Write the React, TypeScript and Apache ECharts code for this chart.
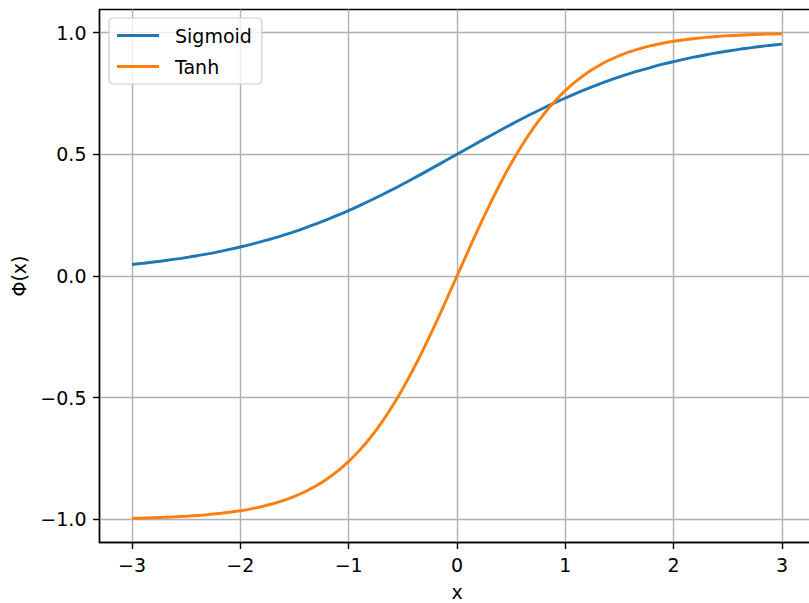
import React, { useEffect, useRef } from "react";
import * as echarts from "echarts";

const xValues = [
  -3, -2.9, -2.8, -2.7, -2.6, -2.5, -2.4, -2.3, -2.2, -2.1, -2, -1.9, -1.8,
  -1.7, -1.6, -1.5, -1.4, -1.3, -1.2, -1.1, -1, -0.9, -0.8, -0.7, -0.6, -0.5,
  -0.4, -0.3, -0.2, -0.1, 0, 0.1, 0.2, 0.3, 0.4, 0.5, 0.6, 0.7, 0.8, 0.9, 1,
  1.1, 1.2, 1.3, 1.4, 1.5, 1.6, 1.7, 1.8, 1.9, 2, 2.1, 2.2, 2.3, 2.4, 2.5, 2.6,
  2.7, 2.8, 2.9, 3,
];
const sigmoidValues = [
  0.0474, 0.0522, 0.0573, 0.063, 0.0691, 0.0759, 0.0832, 0.0911, 0.0998,
  0.1091, 0.1192, 0.1301, 0.1419, 0.1545, 0.168, 0.1824, 0.1978, 0.2142,
  0.2315, 0.2497, 0.2689, 0.2891, 0.31, 0.3318, 0.3543, 0.3775, 0.4013,
  0.4256, 0.4502, 0.475, 0.5, 0.525, 0.5498, 0.5744, 0.5987, 0.6225, 0.6457,
  0.6682, 0.69, 0.7109, 0.7311, 0.7503, 0.7685, 0.7858, 0.8022, 0.8176,
  0.832, 0.8455, 0.8581, 0.8699, 0.8808, 0.8909, 0.9002, 0.9089, 0.9168,
  0.9241, 0.9309, 0.937, 0.9427, 0.9478, 0.9526,
];
const tanhValues = [
  -0.9951, -0.994, -0.9926, -0.991, -0.989, -0.9866, -0.9837, -0.9801,
  -0.9757, -0.9705, -0.964, -0.9562, -0.9468, -0.9354, -0.9217, -0.9051,
  -0.8854, -0.8617, -0.8337, -0.8005, -0.7616, -0.7163, -0.664, -0.6044,
  -0.537, -0.4621, -0.3799, -0.2913, -0.1974, -0.0997, 0, 0.0997, 0.1974,
  0.2913, 0.3799, 0.4621, 0.537, 0.6044, 0.664, 0.7163, 0.7616, 0.8005,
  0.8337, 0.8617, 0.8854, 0.9051, 0.9217, 0.9354, 0.9468, 0.9562, 0.964,
  0.9705, 0.9757, 0.9801, 0.9837, 0.9866, 0.989, 0.991, 0.9926, 0.994, 0.9951,
];
const xTicks = [-3, -2, -1, 0, 1, 2, 3];
const yTicks = [-1, -0.5, 0, 0.5, 1];
const seriesNames = ["Sigmoid", "Tanh"];

const FONT = "DejaVu Sans";
const minus = (s: string) => s.replace("-", "\u2212");

export default function App() {
  const ref = useRef<HTMLDivElement>(null);
  useEffect(() => {
    if (!ref.current) return;
    const chart = echarts.init(ref.current, undefined, { renderer: "svg" });
    const axisCommon = {
      type: "value" as const,
      nameLocation: "middle" as const,
      nameTextStyle: { fontSize: 19, color: "#000", fontFamily: FONT },
      axisLine: { show: true, onZero: false, lineStyle: { color: "#000", width: 1.4 } },
      axisTick: { show: true, inside: false, length: 6.5, lineStyle: { color: "#000", width: 1.4 } },
      splitLine: { show: true, lineStyle: { color: "#b0b0b0", width: 1.4 } },
    };
    chart.setOption({
      animation: false,
      textStyle: { fontFamily: FONT },
      grid: {
        left: 99.5,
        top: 9.5,
        width: 715,
        height: 533,
        outerBoundsMode: "none",
        containLabel: false,
        show: true,
        borderColor: "#000",
        borderWidth: 1.4,
        backgroundColor: "#fff",
      },
      legend: {
        data: seriesNames,
        orient: "vertical",
        left: 109,
        top: 18,
        padding: [8, 10, 8, 8],
        icon: "rect",
        itemWidth: 42,
        itemHeight: 3,
        itemGap: 12,
        backgroundColor: "rgba(255,255,255,0.8)",
        borderColor: "#cccccc",
        borderWidth: 1.2,
        borderRadius: 4,
        textStyle: { fontSize: 19, color: "#000", fontFamily: FONT, padding: [0, 0, 0, 11] },
      },
      xAxis: {
        ...axisCommon,
        min: -3.3,
        max: 3.3,
        name: "x",
        nameGap: 40,
        axisTick: { ...axisCommon.axisTick, customValues: xTicks },
        axisLabel: {
          customValues: xTicks,
          fontSize: 19,
          color: "#000",
          fontFamily: FONT,
          margin: 13,
          formatter: (v: number) => minus(String(v)),
        },
      },
      yAxis: {
        ...axisCommon,
        min: -1.0946,
        max: 1.0946,
        name: "\u03a6(x)",
        nameGap: 71,
        axisTick: { ...axisCommon.axisTick, customValues: yTicks },
        axisLabel: {
          customValues: yTicks,
          fontSize: 19,
          color: "#000",
          fontFamily: FONT,
          margin: 13,
          formatter: (v: number) => minus(v.toFixed(1)),
        },
      },
      series: [
        {
          name: seriesNames[0],
          type: "line",
          smooth: true,
          symbol: "none",
          data: xValues.map((x, i) => [x, sigmoidValues[i]]),
          lineStyle: { color: "#1f77b4", width: 2.9 },
          itemStyle: { color: "#1f77b4" },
        },
        {
          name: seriesNames[1],
          type: "line",
          smooth: true,
          symbol: "none",
          data: xValues.map((x, i) => [x, tanhValues[i]]),
          lineStyle: { color: "#ff7f0e", width: 2.9 },
          itemStyle: { color: "#ff7f0e" },
        },
      ],
    });
    return () => chart.dispose();
  }, []);
  return (
    <div
      ref={ref}
      style={{ position: "fixed", left: 0, top: 0, width: 820, height: 603, background: "#fff" }}
    />
  );
}
